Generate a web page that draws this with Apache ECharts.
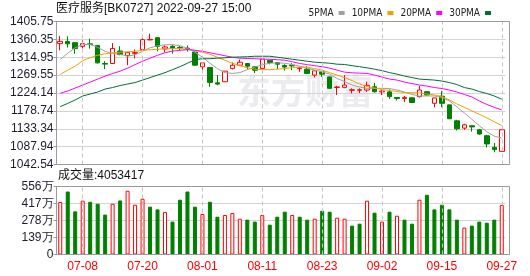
<!DOCTYPE html>
<html><head><meta charset="utf-8">
<script src="https://cdn.jsdelivr.net/npm/echarts@6/dist/echarts.min.js"></script>
<style>html,body{margin:0;padding:0;background:#fff}#c{width:530px;height:276px}</style>
</head><body><div id="c"></div>
<script>
const dates = ['07-05','07-06','07-07','07-08','07-11','07-12','07-13','07-14','07-15','07-18',
'07-19','07-20','07-21','07-22','07-25','07-26','07-27','07-28','07-29','08-01',
'08-02','08-03','08-04','08-05','08-08','08-09','08-10','08-11','08-12','08-15',
'08-16','08-17','08-18','08-19','08-22','08-23','08-24','08-25','08-26','08-29',
'08-30','08-31','09-01','09-02','09-05','09-06','09-07','09-08','09-09','09-13',
'09-14','09-15','09-16','09-19','09-20','09-21','09-22','09-23','09-26','09-27'];
const labelDates = ['07-08','07-20','08-01','08-11','08-23','09-02','09-15','09-27'];

const opens = [1349.5,1355.0,1352.0,1342.7,1349.0,1345.0,1299.0,1299.0,1330.8,1319.0,
1324.8,1334.4,1359.0,1364.6,1336.0,1342.7,1340.0,1338.0,1328.0,1290.6,
1289.0,1250.0,1252.7,1286.6,1294.8,1299.0,1290.6,1286.6,1307.4,1301.6,
1294.0,1295.0,1286.0,1284.7,1269.6,1278.0,1265.0,1238.0,1238.5,1231.0,
1231.0,1231.7,1240.0,1227.0,1227.0,1212.6,1210.0,1212.0,1214.9,1227.4,
1198.0,1216.0,1194.0,1153.5,1135.0,1141.0,1130.8,1115.6,1086.0,1075.9];
const closes = [1355.3,1349.0,1337.0,1349.5,1347.0,1300.7,1297.5,1337.0,1321.7,1326.8,
1326.7,1359.6,1360.3,1342.7,1341.0,1337.7,1338.5,1336.5,1294.8,1300.6,
1251.0,1246.8,1279.7,1294.8,1302.4,1292.3,1282.0,1309.9,1301.6,1297.3,
1290.0,1293.0,1288.0,1273.8,1280.4,1272.0,1236.0,1239.5,1244.3,1232.5,
1232.5,1243.6,1227.4,1229.0,1215.0,1210.0,1213.0,1200.0,1231.7,1219.0,
1211.6,1198.0,1158.7,1133.3,1143.4,1138.0,1120.0,1094.7,1080.4,1130.8];
const lows = [1332.6,1339.5,1324.0,1337.0,1337.0,1299.0,1285.0,1298.0,1320.0,1294.8,
1311.7,1334.0,1357.9,1330.0,1328.0,1324.0,1332.0,1329.0,1293.0,1278.0,
1240.0,1244.0,1252.0,1284.0,1293.0,1284.0,1275.0,1286.0,1297.0,1284.7,
1281.0,1282.0,1278.0,1272.0,1263.7,1265.0,1235.0,1219.0,1236.0,1223.0,
1224.0,1227.0,1225.0,1219.0,1209.0,1205.0,1201.0,1199.0,1213.0,1218.0,
1188.0,1188.0,1158.0,1129.0,1130.8,1126.0,1118.0,1086.0,1073.6,1075.0];
const highs = [1368.7,1368.0,1352.5,1357.9,1362.0,1346.0,1305.0,1351.0,1342.7,1327.0,
1334.4,1371.0,1374.7,1366.0,1345.0,1347.0,1345.0,1345.0,1330.0,1300.6,
1289.0,1269.6,1280.0,1301.6,1309.0,1300.6,1292.3,1310.0,1307.4,1302.0,
1297.0,1300.0,1291.0,1292.3,1282.0,1280.0,1266.0,1242.6,1269.6,1236.0,
1236.0,1252.7,1250.0,1231.0,1233.0,1214.0,1216.6,1213.0,1242.0,1229.0,
1211.6,1229.0,1194.0,1156.0,1146.0,1141.0,1133.0,1118.0,1097.0,1131.0];

const ma5 = [1309.2,1325.1,1339.0,1347.0,1347.8,1340.2,1330.1,1324.3,1322.6,1317.5,
1321.3,1330.1,1339.0,1344.0,1346.5,1347.0,1344.0,1337.7,1327.6,1315.0,
1299.8,1286.0,1275.9,1273.9,1275.9,1283.4,1289.8,1296.1,1299.8,1300.6,
1299.8,1296.1,1292.3,1287.2,1282.2,1278.4,1272.1,1260.8,1253.2,1244.4,
1239.3,1236.0,1236.0,1236.0,1235.5,1231.7,1226.7,1220.4,1216.6,1216.6,
1216.6,1212.8,1204.0,1188.9,1173.7,1157.3,1141.0,1125.8,1114.5,1109.9];
const ma10 = [1271.4,1282.2,1292.3,1306.1,1313.7,1320.0,1323.8,1326.3,1327.6,1328.9,
1330.1,1332.6,1333.9,1335.2,1336.4,1336.9,1336.9,1335.2,1332.6,1327.6,
1322.6,1315.0,1307.4,1299.8,1293.5,1288.5,1284.7,1283.4,1283.4,1284.7,
1286.0,1288.5,1289.8,1289.8,1286.0,1282.2,1275.9,1269.6,1263.3,1255.7,
1246.9,1240.6,1236.8,1233.0,1230.5,1227.9,1225.4,1224.9,1224.2,1221.6,
1219.1,1215.3,1206.5,1196.4,1187.6,1178.8,1170.0,1161.1,1151.0,1141.0];
const ma20 = [1223.4,1229.2,1236.8,1244.4,1251.9,1259.5,1267.1,1273.4,1279.7,1287.2,
1296.1,1304.9,1312.5,1320.0,1326.3,1330.6,1332.6,1334.4,1332.6,1330.1,
1326.3,1322.6,1318.8,1315.0,1312.5,1311.7,1311.2,1310.4,1309.9,1308.7,
1307.4,1303.6,1299.1,1296.1,1293.5,1291.0,1287.2,1282.2,1277.1,1275.4,
1274.6,1273.9,1269.6,1264.5,1259.5,1257.0,1251.9,1248.1,1244.4,1241.8,
1238.0,1235.5,1231.7,1226.7,1220.4,1214.1,1204.0,1195.1,1187.6,1181.3];
const ma30 = [1189.6,1197.7,1206.5,1216.6,1221.6,1226.7,1234.2,1238.0,1243.1,1246.9,
1250.7,1257.0,1263.3,1269.6,1275.9,1283.4,1291.0,1299.8,1308.7,1311.2,
1311.2,1312.5,1313.7,1315.0,1315.7,1316.2,1317.5,1317.5,1317.5,1315.0,
1312.5,1309.9,1307.4,1304.9,1302.4,1301.1,1299.8,1297.3,1296.6,1293.5,
1291.0,1288.0,1284.7,1280.9,1275.9,1272.1,1267.1,1263.3,1259.5,1258.2,
1257.0,1254.5,1250.7,1245.6,1238.0,1234.2,1227.9,1222.9,1216.6,1208.3];

// volume in 万 (10k shares)
const volumes = [429,515,353,440,431,415,326,415,442,521,
407,456,391,369,347,269,448,515,391,331,
431,309,323,339,293,285,269,323,244,309,
350,323,309,285,293,358,350,301,293,236,
252,440,342,269,350,317,285,252,448,488,
369,407,369,285,220,236,269,260,285,405.3417];
const volUp = [1,0,0,1,0,0,0,1,0,1,
1,1,0,0,1,0,0,0,0,1,
0,0,1,1,1,0,0,1,0,0,
0,1,0,0,1,0,0,1,1,0,
0,1,0,1,0,1,0,0,1,0,
0,0,0,0,1,0,0,0,0,1];

const priceTicks = ['1042.54','1087.94','1133.34','1178.74','1224.14','1269.55','1314.95','1360.35','1405.75'];
const priceMin = 1042.54, priceMax = 1405.75;
const volMax = 556, volStep = 139;
const titleText = '医疗服务[BK0727] 2022-09-27 15:00';
const volText = '成交量:4053417';

const UP = '#ff0000', DOWN = '#008000';
const chart = echarts.init(document.getElementById('c'), null, {renderer: 'canvas'});
const labelColor = '#1c1c2c';
const gridL = 56.5, gridW = 449;
const markDash = {
  symbol: ['none', 'none'], silent: true, animation: false,
  label: {show: false},
  lineStyle: {type: [4, 3], color: '#c4c4c4', width: 1},
  data: labelDates.map(d => ({xAxis: d}))
};

chart.setOption({
  animation: false,
  backgroundColor: '#fff',
  legend: {
    top: 3, right: 34, align: 'right', icon: 'rect', itemWidth: 6, itemHeight: 4, itemGap: 7,
    textStyle: {fontSize: 10, color: '#222', fontFamily: '"DejaVu Sans Condensed", sans-serif'},
    data: ['5PMA', '10PMA', '20PMA', '30PMA']
  },
  graphic: [
    {type: 'text', left: 237, top: 74, z: -10, silent: true,
     style: {text: '东方财富', font: 'bold 34px "Noto Sans CJK SC"', fill: '#ececf0'}},
    {type: 'text', left: 56, top: 3, style: {text: titleText, font: '12px "Liberation Sans", "Noto Sans CJK SC"', fill: '#111'}},
    {type: 'text', left: 58, top: 170, style: {text: volText, font: '12px "Liberation Sans", "Noto Sans CJK SC"', fill: '#111'}},
    {type: 'rect', silent: true, z: 50, shape: {x: 56.5, y: 21.5, width: 453, height: 143},
     style: {fill: 'none', stroke: '#9a9a9a', lineWidth: 1}},
    {type: 'rect', silent: true, z: 50, shape: {x: 56.5, y: 186.5, width: 453, height: 68},
     style: {fill: 'none', stroke: '#9a9a9a', lineWidth: 1}}
  ],
  grid: [
    {left: gridL, width: gridW, top: 21.5, height: 143},
    {left: gridL, width: gridW, top: 186.5, height: 68}
  ],
  xAxis: [
    {type: 'category', gridIndex: 0, data: dates, boundaryGap: true,
     axisLine: {show: false}, axisTick: {show: false}, axisLabel: {show: false}, splitLine: {show: false}},
    {type: 'category', gridIndex: 1, data: dates, boundaryGap: true,
     axisLine: {show: false}, axisTick: {show: false}, splitLine: {show: false},
     axisLabel: {interval: (i, v) => labelDates.includes(v), color: UP, fontSize: 12, margin: 6,
                 fontFamily: 'Liberation Sans'}}
  ],
  yAxis: [
    {type: 'value', gridIndex: 0, min: priceMin, max: priceMax, show: false},
    {type: 'value', gridIndex: 0, min: 0, max: priceTicks.length - 1, interval: 1, position: 'left',
     axisLine: {show: true, lineStyle: {color: '#9a9a9a'}},
     axisTick: {show: true, length: 3, lineStyle: {color: '#9a9a9a'}},
     axisLabel: {formatter: v => priceTicks[v], color: labelColor, fontSize: 12, margin: 3, fontFamily: 'Liberation Sans'},
     splitLine: {show: true, lineStyle: {color: '#d4d4d4', width: 1}}},
    {type: 'value', gridIndex: 1, min: 0, max: volMax, interval: volStep, position: 'left',
     axisLine: {show: true, lineStyle: {color: '#9a9a9a'}},
     axisTick: {show: true, length: 3, lineStyle: {color: '#9a9a9a'}},
     axisLabel: {formatter: v => v === 0 ? '0' : v + '万', color: labelColor, fontSize: 12, margin: 3, fontFamily: 'Liberation Sans'},
     splitLine: {show: true, lineStyle: {color: '#d4d4d4', width: 1}}}
  ],
  series: [
    {name: 'K', type: 'candlestick', xAxisIndex: 0, yAxisIndex: 0, barWidth: 5,
     data: dates.map((d, i) => [opens[i], closes[i], lows[i], highs[i]]),
     itemStyle: {color: '#ffffff', color0: DOWN, borderColor: UP, borderColor0: DOWN, borderWidth: 1},
     markLine: markDash},
    {name: '5PMA', type: 'line', xAxisIndex: 0, yAxisIndex: 0, data: ma5, showSymbol: false, symbol: 'none',
     color: '#a0a0a0', lineStyle: {width: 1, color: '#a0a0a0'}},
    {name: '10PMA', type: 'line', xAxisIndex: 0, yAxisIndex: 0, data: ma10, showSymbol: false, symbol: 'none',
     color: '#f2a100', lineStyle: {width: 1, color: '#f2a100'}},
    {name: '20PMA', type: 'line', xAxisIndex: 0, yAxisIndex: 0, data: ma20, showSymbol: false, symbol: 'none',
     color: '#ff00ff', lineStyle: {width: 1, color: '#ff00ff'}},
    {name: '30PMA', type: 'line', xAxisIndex: 0, yAxisIndex: 0, data: ma30, showSymbol: false, symbol: 'none',
     color: '#006f3a', lineStyle: {width: 1, color: '#006f3a'}},
    {name: 'VOL', type: 'bar', xAxisIndex: 1, yAxisIndex: 2, barWidth: 4,
     data: volumes.map((v, i) => ({value: v, itemStyle: volUp[i]
        ? {color: '#ffffff', borderColor: UP, borderWidth: 1}
        : {color: DOWN, borderColor: DOWN, borderWidth: 1}})),
     markLine: markDash}
  ]
});
</script></body></html>
